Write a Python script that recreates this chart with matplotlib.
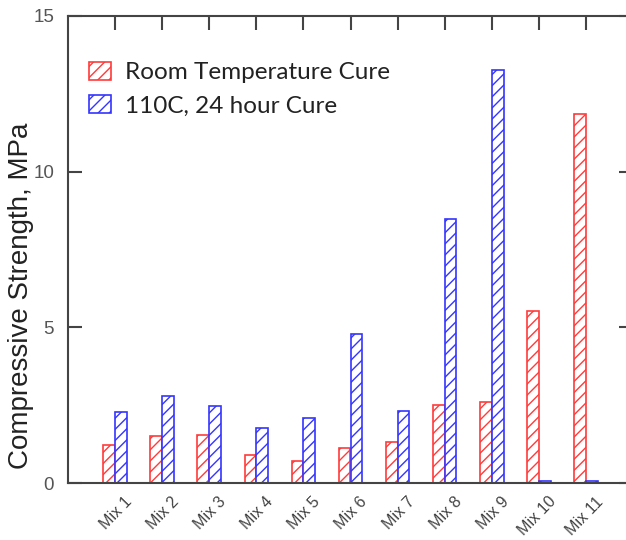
import matplotlib
matplotlib.use("Agg")
import matplotlib.pyplot as plt
import matplotlib.transforms as mtransforms
import numpy as np

categories = ["Mix 1", "Mix 2", "Mix 3", "Mix 4", "Mix 5", "Mix 6",
              "Mix 7", "Mix 8", "Mix 9", "Mix 10", "Mix 11"]
room_temp = [1.22, 1.51, 1.55, 0.89, 0.71, 1.11, 1.31, 2.51, 2.61, 5.53, 11.85]
cure_110c = [2.27, 2.78, 2.46, 1.77, 2.10, 4.79, 2.32, 8.48, 13.27, 0.05, 0.05]
series_labels = ["Room Temperature Cure", "110C, 24 hour Cure"]
y_ticks = [0, 5, 10, 15]

plt.rcParams['hatch.linewidth'] = 1.0
fig = plt.figure(figsize=(6.26, 5.40), dpi=100)
ax = fig.add_axes([68/626, 1-483/540, (633-68)/626, (483-16)/540])

x = np.arange(1, len(categories) + 1)
w = 0.25
red = '#ff3b3b'
blue = '#3535ff'
ax.bar(x - w/2, room_temp, w, facecolor='white', edgecolor=red,
       hatch='///', linewidth=1.2, label=series_labels[0])
ax.bar(x + w/2, cure_110c, w, facecolor='white', edgecolor=blue,
       hatch='///', linewidth=1.2, label=series_labels[1])

ax.set_xlim(0, 12)
ax.set_ylim(0, 15)
ax.set_yticks(y_ticks)
ax.set_xticks(x)
ax.set_xticklabels(categories, rotation=46, ha='right', va='top',
                   rotation_mode='anchor', fontsize=11.5, color='#444444',
                   family='Liberation Sans')
ax.tick_params(axis='x', which='major', top=True, bottom=True, direction='in',
               length=10, width=1.5, color='#444444', pad=8)
for t in ax.xaxis.get_major_ticks():
    t.tick1line.set_visible(False)
offset = mtransforms.ScaledTranslation(9/100, 0, fig.dpi_scale_trans)
for lab in ax.get_xticklabels():
    lab.set_transform(lab.get_transform() + offset)
ax.tick_params(axis='y', which='major', left=True, right=True, direction='in',
               length=10, width=1.5, color='#444444', pad=10,
               labelsize=13.5, labelcolor='#555555')
for lab in ax.get_yticklabels():
    lab.set_family('Liberation Sans')
for s in ax.spines.values():
    s.set_color('#444444')
    s.set_linewidth(1.5)

fig.text(21/626, 1-296/540, "Compressive Strength, MPa", rotation=90,
         ha='center', va='center', fontsize=20, color='#222222',
         family='Liberation Sans')

leg = ax.legend(loc='upper left', bbox_to_anchor=(89/626, 1-62/540),
                bbox_transform=fig.transFigure, frameon=False, borderpad=0,
                borderaxespad=0, handlelength=0.9,
                handleheight=0.75, handletextpad=0.6, labelspacing=0.48,
                prop={'family': 'Lato', 'size': 17.5})
for t in leg.get_texts():
    t.set_color('#222222')

fig.savefig("out.png", dpi=100)
